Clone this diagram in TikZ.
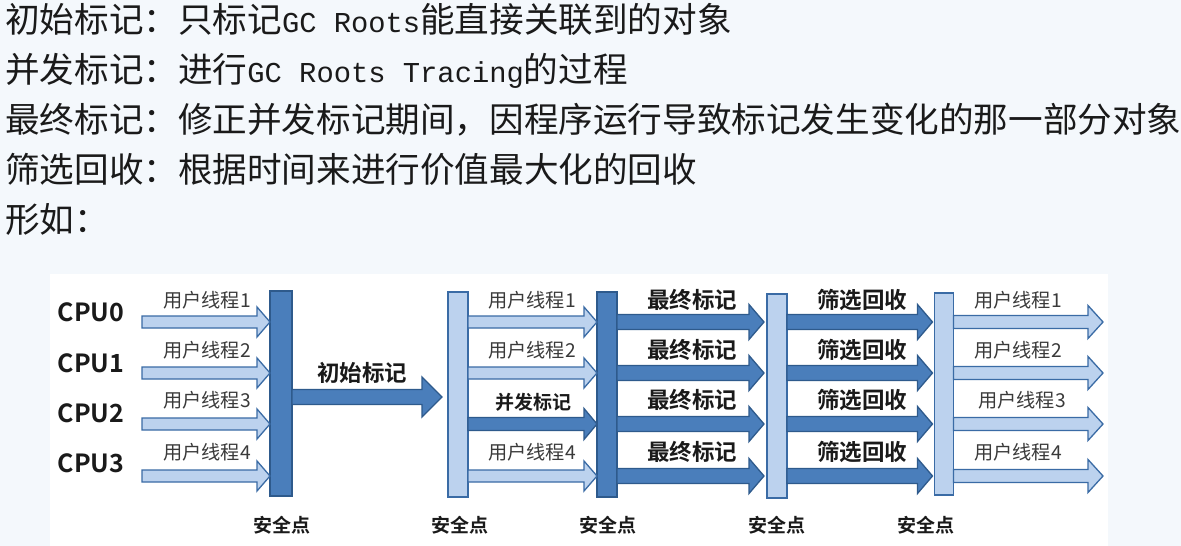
\documentclass[tikz,border=0pt]{standalone}
\usepackage{fontspec}
\usetikzlibrary{calc}
\newfontfamily\cjk{Noto Sans CJK SC}[BoldFont={Noto Sans CJK SC Bold}]
\newfontfamily\lmono{Liberation Mono}
\definecolor{bgc}{HTML}{F4F8FC}
\definecolor{dkfill}{HTML}{4A7EBB}
\definecolor{dkdraw}{HTML}{2E5A8C}
\definecolor{ltfill}{HTML}{BCD2EE}
\definecolor{ltdraw}{HTML}{3A6BA5}
\definecolor{txt}{HTML}{1A1A1A}
\definecolor{thr}{HTML}{3A3A3A}
% style, from, to, shaft half, head half, head length, gap before target
\newcommand\blockarrow[7]{%
  \draw[#1] let \p1=(#2), \p2=(#3) in
    (\x1,\y1+#4pt) -- (\x2-#7pt-#6pt,\y1+#4pt) -- (\x2-#7pt-#6pt,\y1+#5pt)
    -- (\x2-#7pt,\y1) -- (\x2-#7pt-#6pt,\y1-#5pt) -- (\x2-#7pt-#6pt,\y1-#4pt)
    -- (\x1,\y1-#4pt) -- cycle;}
\begin{document}
\begin{tikzpicture}[x=1pt,y=-1pt,
  topline/.style={anchor=base west,inner sep=0pt,text=txt,font=\cjk\fontsize{34.6}{40}\selectfont},
  dkbar/.style={draw=dkdraw,fill=dkfill,line width=1.4pt,inner sep=0pt,outer sep=0pt},
  ltbar/.style={draw=ltdraw,fill=ltfill,line width=1.4pt,inner sep=0pt,outer sep=0pt},
  dkarr/.style={draw=dkdraw,fill=dkfill,line width=1.3pt,line join=miter},
  ltarr/.style={draw=ltdraw,fill=ltfill,line width=1.3pt,line join=miter},
  cpu/.style={font=\cjk\bfseries\fontsize{25}{28}\selectfont,text=txt,inner sep=0pt},
  thread/.style={font=\cjk\fontsize{19.2}{22}\selectfont,text=thr,inner sep=0pt},
  phase/.style={font=\cjk\bfseries\fontsize{22.5}{26}\selectfont,text=txt,inner sep=0pt},
  small/.style={font=\cjk\bfseries\fontsize{19}{22}\selectfont,text=txt,inner sep=0pt}]
\useasboundingbox (0,0) rectangle (1181,546);
\fill[bgc] (0,0) rectangle (1181,546);
\fill[white] (50,274) rectangle (1108,546);

% top text
\newcommand\mtxt[1]{{\lmono\fontsize{28.8}{30}\selectfont #1}}
\node[topline] (l1) at (5,32) {初始标记：只标记\mtxt{GC Roots}能直接关联到的对象};
\node[topline] (l2) at (5,82) {并发标记：进行\mtxt{GC Roots Tracing}的过程};
\node[topline] (l3) at (5,132) {最终标记：修正并发标记期间，因程序运行导致标记发生变化的那一部分对象};
\node[topline] (l4) at (5,182) {筛选回收：根据时间来进行价值最大化的回收};
\node[topline] (l5) at (5,232) {形如：};

% rows
\coordinate (r0) at (0,322);
\coordinate (r1) at (0,373);
\coordinate (r2) at (0,424);
\coordinate (r3) at (0,476);
\coordinate (rm) at (0,397);
\coordinate (src) at (142,0);
\coordinate (dst) at (1103,0);

% safepoint bars
\node[dkbar,minimum width=22pt,minimum height=205pt] (bar1) at (281,393.5) {};
\node[ltbar,minimum width=20pt,minimum height=205pt] (bar2) at (458,394.5) {};
\node[dkbar,minimum width=20pt,minimum height=205pt] (bar3) at (607,394.5) {};
\node[ltbar,minimum width=20pt,minimum height=204pt] (bar4) at (777,396) {};
\node[ltbar,minimum width=19pt,minimum height=202pt] (bar5) at (944,394) {};

% arrows
\foreach \r in {0,1,2,3} {
  \blockarrow{ltarr}{src |- r\r}{bar1.west |- r\r}{6}{15}{13}{0}
  \blockarrow{dkarr}{bar3.east |- r\r}{bar4.west |- r\r}{7.5}{17.5}{15}{3}
  \blockarrow{dkarr}{bar4.east |- r\r}{bar5.west |- r\r}{7.5}{17.5}{15}{2}
  \blockarrow{ltarr}{bar5.east |- r\r}{dst |- r\r}{6.5}{16.5}{15}{0}
}
\foreach \r in {0,1,3} {
  \blockarrow{ltarr}{bar2.east |- r\r}{bar3.west |- r\r}{6}{15}{13}{0}
}
\blockarrow{dkarr}{bar2.east |- r2}{bar3.west |- r2}{6.5}{15.5}{13}{0}
\blockarrow{dkarr}{bar1.east |- rm}{bar2.west |- rm}{7.5}{20}{20}{6}

% CPU labels
\node[cpu] (c0) at (91,312) {CPU0};
\node[cpu] (c1) at (91,363) {CPU1};
\node[cpu] (c2) at (91,413) {CPU2};
\node[cpu] (c3) at (91,463) {CPU3};

% thread labels
\node[thread] (ta1) at (207,300) {用户线程1};
\node[thread] (ta2) at (207,350) {用户线程2};
\node[thread] (ta3) at (207,400) {用户线程3};
\node[thread] (ta4) at (207,452) {用户线程4};
\node[phase] (init) at (362,373) {初始标记};
\node[thread] (tb1) at (532,300) {用户线程1};
\node[thread] (tb2) at (532,350) {用户线程2};
\node[small] (conc) at (533,402) {并发标记};
\node[thread] (tb4) at (532,452) {用户线程4};
\foreach \y/\n in {300/0,350/1,400/2,452/3} {
  \node[phase] (fin\n) at (692,\y) {最终标记};
  \node[phase] (sel\n) at (862,\y) {筛选回收};
}
\node[thread] (te1) at (1018,300) {用户线程1};
\node[thread] (te2) at (1018,350) {用户线程2};
\node[thread] (te3) at (1022,400) {用户线程3};
\node[thread] (te4) at (1018,452) {用户线程4};

% safepoint labels
\node[small] (s1) at (282,525) {安全点};
\node[small] (s2) at (460,525) {安全点};
\node[small] (s3) at (608,525) {安全点};
\node[small] (s4) at (777,525) {安全点};
\node[small] (s5) at (926,525) {安全点};
\end{tikzpicture}
\end{document}
